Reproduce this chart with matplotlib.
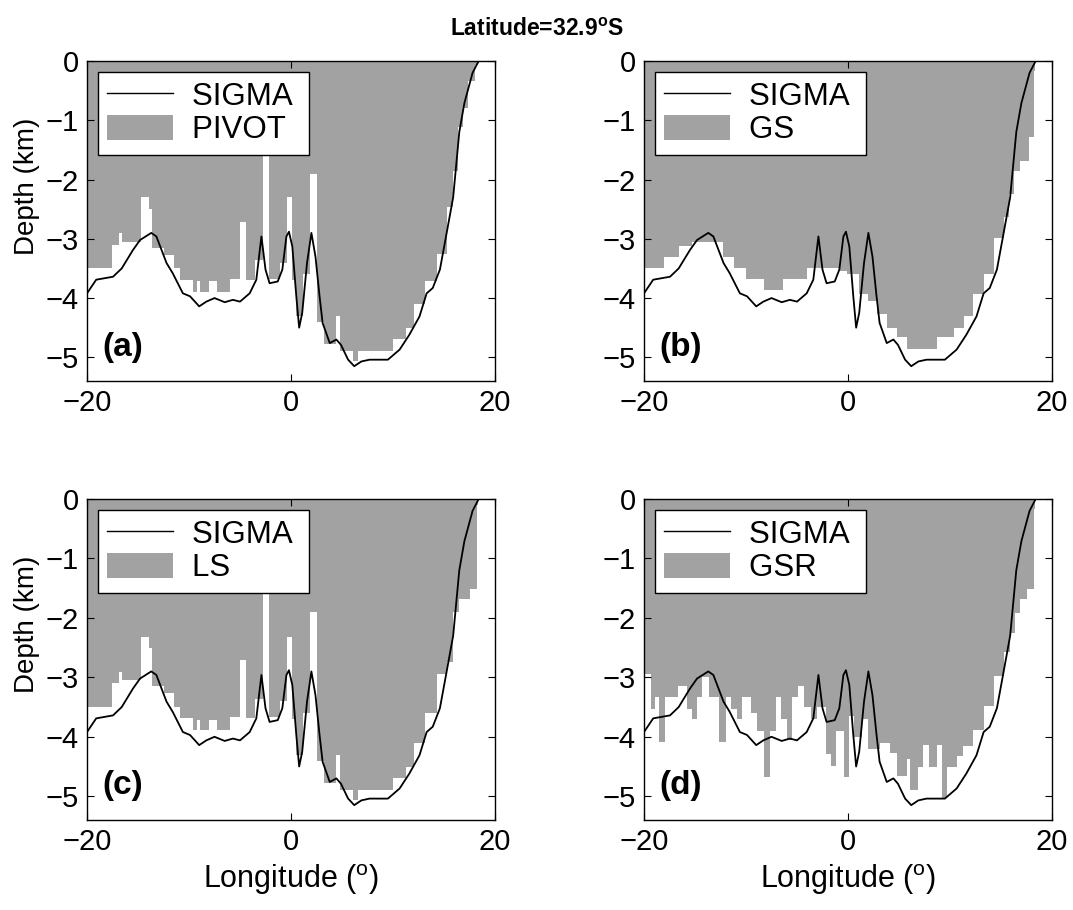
import matplotlib
matplotlib.use("Agg")
import matplotlib.pyplot as plt
from matplotlib.lines import Line2D
from matplotlib.patches import Patch

plt.rcParams['font.family'] = ['Liberation Sans', 'DejaVu Sans']
plt.rcParams['mathtext.fontset'] = 'custom'
plt.rcParams['mathtext.rm'] = 'Liberation Sans'
plt.rcParams['mathtext.bf'] = 'Liberation Sans:bold'

# SIGMA bathymetry (lon in deg, depth in km)
sigma_lon = [-20, -19.1, -17.45, -16.6, -15.5, -14.8, -13.7, -13.2, -12.2, -11.6,
             -10.6, -9.9, -9.0, -8.3, -7.5, -6.5, -5.7, -5.0, -4.05, -3.4,
             -2.9, -2.5, -2.1, -1.3, -0.85, -0.45, -0.2, 0.13, 0.52, 0.8,
             1.1, 1.57, 2.0, 2.4, 2.8, 3.1, 3.8, 4.45, 4.9, 5.6,
             6.2, 6.9, 7.7, 8.7, 9.5, 10.65, 11.6, 12.6, 13.3, 13.9,
             14.6, 15.2, 15.9, 16.5, 17.0, 17.8, 18.4, 20]
sigma_depth = [-3.92, -3.69, -3.64, -3.50, -3.19, -3.02, -2.90, -2.96, -3.41, -3.58,
               -3.92, -3.97, -4.14, -4.06, -4.00, -4.07, -4.03, -4.06, -3.92, -3.69,
               -2.96, -3.52, -3.75, -3.72, -3.52, -2.96, -2.88, -3.13, -3.97, -4.50,
               -4.25, -3.41, -2.90, -3.30, -3.97, -4.42, -4.76, -4.70, -4.79, -5.04,
               -5.15, -5.07, -5.04, -5.04, -5.04, -4.87, -4.62, -4.31, -3.92, -3.83,
               -3.52, -2.96, -2.30, -1.20, -0.71, -0.20, 0.0, 0.0]

# model bottoms, stepped columns
pivot_edges = [-20.0, -17.55, -16.9, -16.55, -14.75, -13.95, -13.6, -12.5, -11.5, -10.85,
               -9.6, -9.2, -8.9, -8.0, -7.3, -5.95, -5.0, -4.4, -3.5, -2.75,
               -2.2, -1.05, -0.4, 0.1, 0.5, 1.2, 1.9, 2.55, 3.2, 4.45,
               4.8, 6.1, 6.6, 10.0, 11.3, 12.1, 13.1, 14.3, 15.25, 15.9,
               16.4, 16.9, 17.4, 18.0, 18.35]
pivot_depth = [-3.50, -3.10, -2.91, -3.05, -2.30, -2.50, -3.15, -3.27, -3.50, -3.69,
               -3.89, -3.72, -3.89, -3.72, -3.89, -3.67, -2.71, -3.69, -3.36, -1.55,
               -3.67, -3.40, -2.30, -3.70, -4.30, -3.60, -1.90, -4.40, -4.78, -4.30,
               -4.89, -5.06, -4.89, -4.69, -4.50, -4.10, -3.71, -3.26, -2.47, -1.85,
               -1.12, -0.79, -0.34, -0.06]

gs_edges = [-20.0, -18.05, -16.55, -15.25, -12.3, -11.2, -10.0, -8.25, -6.35, -4.0,
            -0.9, -0.1, 1.05, 2.0, 2.85, 3.8, 4.8, 5.8, 8.7, 10.35,
            11.35, 12.3, 13.3, 14.3, 15.25, 15.75, 16.25, 16.9, 17.7, 18.2, 18.35]
gs_depth = [-3.50, -3.30, -3.12, -3.05, -3.30, -3.50, -3.67, -3.87, -3.67, -3.50,
            -3.55, -3.60, -3.93, -4.05, -4.27, -4.50, -4.66, -4.86, -4.66, -4.50,
            -4.30, -3.93, -3.60, -2.98, -2.64, -2.25, -1.85, -1.69, -1.29, -0.17]

ls_edges = [-20.0, -17.55, -16.9, -16.55, -14.75, -13.95, -13.6, -12.5, -11.5, -10.85,
            -9.6, -9.2, -8.9, -8.0, -7.3, -5.95, -5.0, -4.4, -3.5, -2.75,
            -2.2, -1.05, -0.4, 0.1, 0.5, 1.2, 1.9, 2.55, 3.2, 4.45,
            4.8, 6.1, 6.6, 10.0, 11.3, 12.1, 13.1, 14.3, 15.25, 15.9,
            16.5, 17.55, 18.2, 18.35]
ls_depth = [-3.50, -3.10, -2.91, -3.05, -2.32, -2.50, -3.15, -3.27, -3.50, -3.69,
            -3.89, -3.72, -3.89, -3.72, -3.89, -3.67, -2.71, -3.69, -3.36, -1.59,
            -3.67, -3.40, -2.32, -3.70, -4.30, -3.60, -1.90, -4.40, -4.78, -4.30,
            -4.89, -5.06, -4.89, -4.69, -4.50, -4.10, -3.60, -2.95, -2.75, -1.90,
            -1.69, -1.52, -0.10]

gsr_edges = [-20.0, -19.35, -18.9, -18.5, -17.9, -16.7, -15.75, -15.25, -14.8, -14.3,
             -13.6, -12.65, -12.0, -11.5, -10.85, -10.35, -9.55, -8.9, -8.25, -7.6,
             -7.1, -6.6, -5.95, -5.45, -4.95, -4.3, -3.65, -3.0, -2.2, -1.7,
             -1.2, -0.4, 0.1, 0.55, 1.35, 2.0, 3.15, 4.15, 4.8, 5.8,
             6.1, 6.9, 7.4, 7.9, 8.7, 9.2, 9.7, 10.7, 11.3, 12.3,
             13.3, 14.3, 15.3, 15.9, 16.4, 16.9, 17.55, 18.2, 18.35]
gsr_depth = [-2.94, -3.53, -3.33, -4.09, -3.33, -3.14, -3.53, -3.70, -3.33, -3.00,
             -3.33, -4.09, -3.33, -3.53, -3.70, -3.33, -3.60, -3.90, -4.68, -3.90,
             -3.33, -3.70, -4.06, -3.33, -3.14, -3.50, -3.70, -3.50, -4.29, -4.49,
             -3.90, -4.68, -3.65, -4.00, -3.70, -4.20, -4.10, -4.27, -4.66, -4.38,
             -4.89, -4.50, -4.13, -4.50, -4.13, -5.03, -4.50, -4.33, -4.16, -3.88,
             -3.48, -2.98, -2.58, -2.25, -1.91, -1.69, -1.52, -0.17]

panels = [
    ('PIVOT', '(a)', pivot_edges, pivot_depth, [0.0811, 0.5813, 0.3802, 0.3516]),
    ('GS', '(b)', gs_edges, gs_depth, [0.6002, 0.5813, 0.3802, 0.3516]),
    ('LS', '(c)', ls_edges, ls_depth, [0.0811, 0.0989, 0.3802, 0.3527]),
    ('GSR', '(d)', gsr_edges, gsr_depth, [0.6002, 0.0989, 0.3802, 0.3527]),
]

gray = '#a2a2a2'
fig = plt.figure(figsize=(10.73, 9.10), dpi=100)

for i, (name, tag, edges, depth, pos) in enumerate(panels):
    ax = fig.add_axes(pos)
    ax.stairs(depth, edges, baseline=0, fill=True, color=gray, lw=0)
    ax.plot(sigma_lon, sigma_depth, color='black', lw=1.3)
    ax.set_xlim(-20, 20)
    ax.set_ylim(-5.4, 0)
    ax.set_xticks([-20, 0, 20])
    ax.set_yticks([0, -1, -2, -3, -4, -5])
    ax.tick_params(direction='in', length=5, labelsize=21, top=True, right=True, pad=6)
    for s in ax.spines.values():
        s.set_linewidth(1.0)
    ax.text(-18.5, -4.97, tag, fontsize=24, fontweight='bold', va='baseline')
    handles = [Line2D([], [], color='black', lw=1.0), Patch(facecolor=gray, edgecolor='none')]
    leg = ax.legend(handles, ['SIGMA ', name + ' '], loc='upper left', fontsize=22.5,
                    fancybox=False, framealpha=1, edgecolor='black',
                    borderaxespad=0.35, borderpad=0.3, handlelength=2.1,
                    handleheight=0.87, handletextpad=0.6, labelspacing=0.1)
    leg.get_frame().set_linewidth(1.0)
    if i % 2 == 0:
        ax.set_ylabel('Depth (km)', fontsize=20, y=0.61)
    if i >= 2:
        ax.set_xlabel(r'Longitude ($^{\rm o}$)', fontsize=22)

fig.text(0.5, 0.96, r'Latitude=32.9$^\mathbf{o}$S', fontsize=16.5, fontweight='bold',
         ha='center', va='baseline')

fig.savefig('out.png', dpi=100)
